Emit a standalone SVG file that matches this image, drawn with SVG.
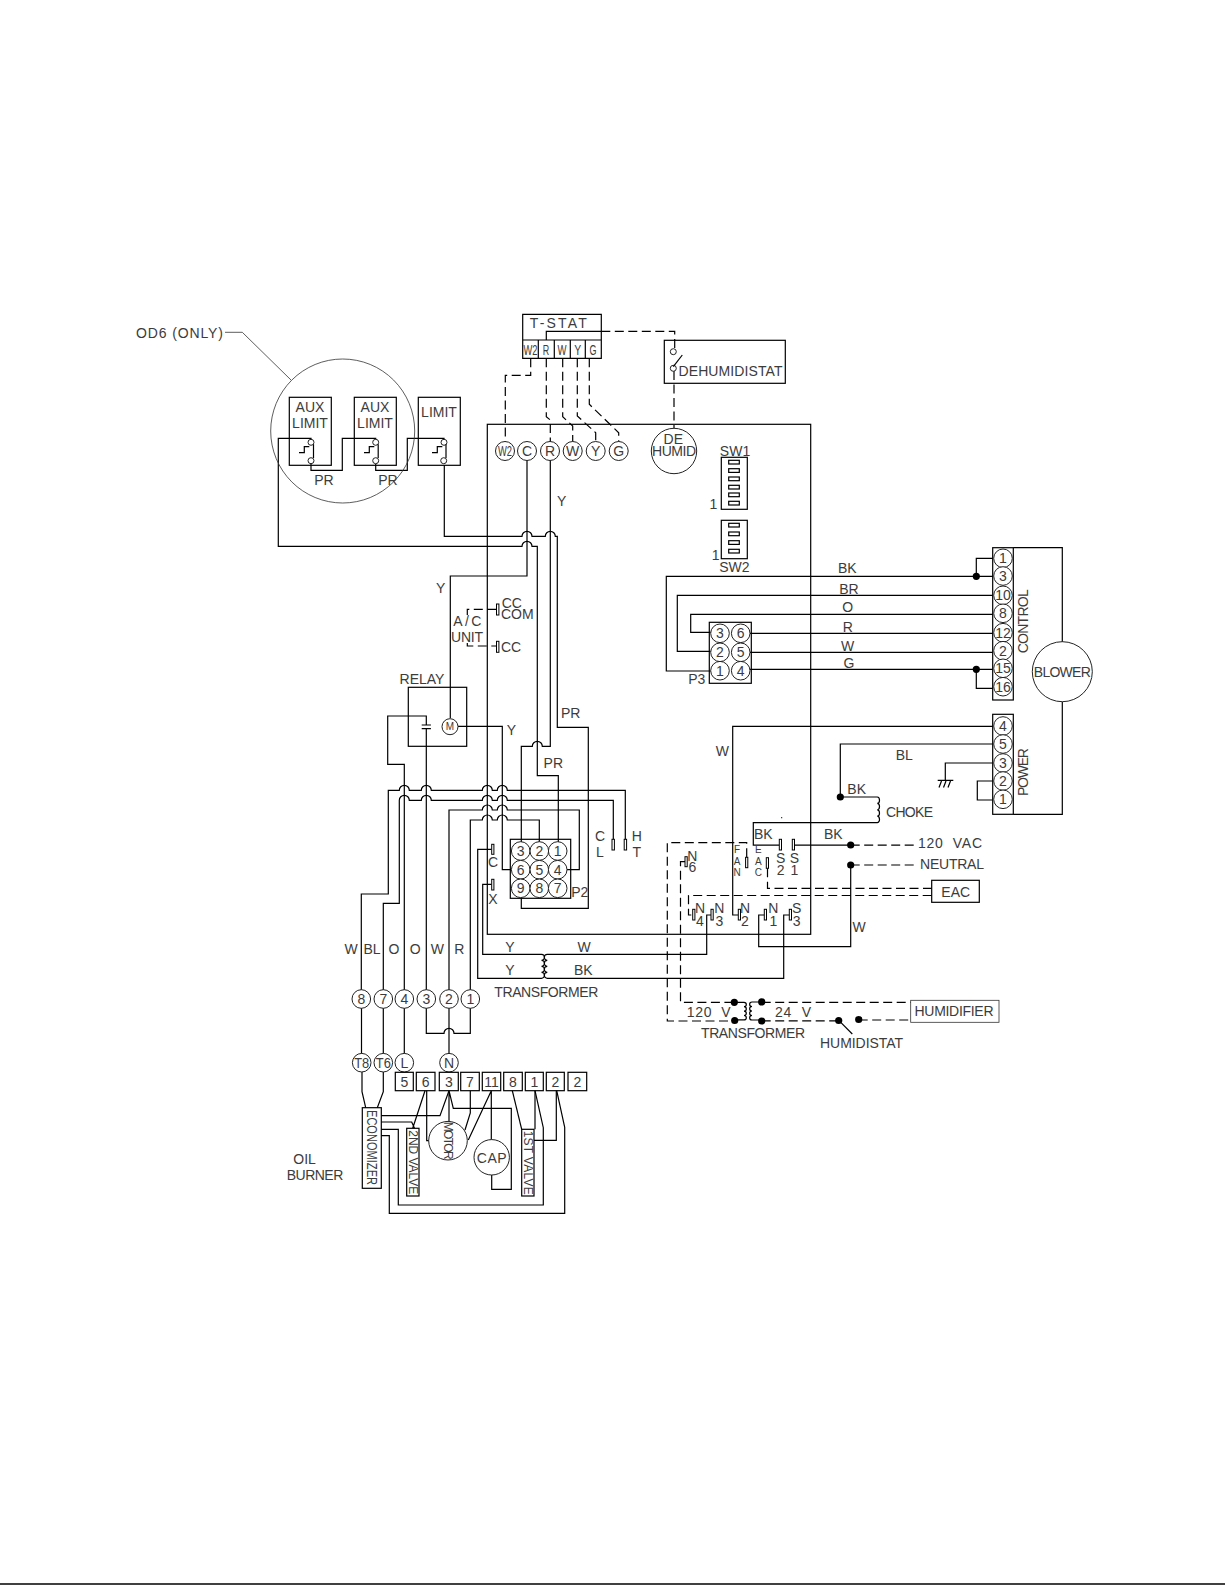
<svg xmlns="http://www.w3.org/2000/svg" width="1225" height="1585" viewBox="0 0 1225 1585">
<style>
text{font-family:"Liberation Sans",Arial,sans-serif;font-size:14px;fill:#3c3c3c;text-anchor:middle}
.s{font-size:12px}
.n{font-size:14px}
.xs{font-size:10px}
.l{text-anchor:start}
.b,.w,.d,.t{fill:none;stroke:#000;stroke-width:1.2}
.c{fill:#fff;stroke:#222;stroke-width:1}
.d{stroke-dasharray:9 4.5}
.t{fill:#fff;stroke-width:1}
.th{fill:none;stroke:#333;stroke-width:.8}
.dot{fill:#000}
</style>
<rect width="1225" height="1585" fill="#fff"/>
<path id="page-rule" d="M0 1584H1225" stroke="#000" stroke-width="1.4"/>
<rect id="board" class="b" x="487.3" y="424.3" width="323.4" height="510"/>

<g id="connectors">
<path class="w" d="M444.3 465V536.3H522a5 5 0 0 1 10 0H545.3a5 5 0 0 1 10 0H557.3V727.3H588.3V908.3H521.3V898.3"/>
<path class="w" d="M311 440V438.3H278.3V546.3H522a5 5 0 0 1 10 0H537.3V775.7H558.3V842"/>
<path class="w" d="M550.3 460V746.3H542.3a5 5 0 0 0-10 0H521.3V842"/>
<path class="w" d="M527 460V576H450.3V718"/>
<path class="w" d="M311 464V470.3H342.3V438.3H375.7V440M375.7 464V470.3H407.3V438.3H444V440"/>
<path class="w" d="M458 726.3H502.3V869.7H511"/>
<path class="w" d="M404.3 990V764.3H387.7V716H426.3V725M421.7 725H430.9M421.7 728.7H430.9M426.3 728.7V990"/>
<path class="w" d="M361.3 990V894H388.3V790.3H399.3a5 5 0 0 1 10 0H421.3a5 5 0 0 1 10 0H482.3a5 5 0 0 1 10 0H497.3a5 5 0 0 1 10 0H625.3V839.3"/>
<path class="w" d="M383.3 990V903.3H399.3V800.3a5 5 0 0 1 10 0H421.3a5 5 0 0 1 10 0H482.3a5 5 0 0 1 10 0H497.3a5 5 0 0 1 10 0H613.3V839.3"/>
<path class="w" d="M449 990V810H482.3a5 5 0 0 1 10 0H497.3a5 5 0 0 1 10 0H579.3V869.7H566"/>
<path class="w" d="M470.3 990V820H482.3a5 5 0 0 1 10 0H497.3a5 5 0 0 1 10 0H539.3V842"/>
<path class="w" d="M491.7 849.3H477.7V978.3H541.5a3 3 0 0 0 0-6a3 3 0 0 0 0-6a3 3 0 0 0 0-6a3 3 0 0 0 0-6H482.7V884.3H491.7"/>
<path class="w" d="M711 915H706.7V954.3H547.3a3 3 0 0 0 0 6a3 3 0 0 0 0 6a3 3 0 0 0 0 6a3 3 0 0 0 0 6H783.7V915H789.3"/>
<path class="w" d="M992.7 726.3H732.7V915H738.3"/>
<path class="w" d="M850.7 865V946.7H758.7V915H764.3"/>
<path class="w" d="M361.5 1008V1055M383.3 1008V1055M404.3 1008V1055M449 1008V1055"/>
<path class="w" d="M426.3 1008V1033.3H444a5 5 0 0 1 10 0H470.3V1008"/>
<path class="w" d="M546.3 340V331.3H601.3"/>
<path class="w" d="M992.7 558.3H976.3V576.3M992.7 576.3H666.3V671H710.7"/>
<path class="w" d="M992.7 595.3H677.3V651.3H710.7"/>
<path class="w" d="M992.7 614.3H690.7V632.3H710.7"/>
<path class="w" d="M750 633.3H992.7M750 652.3H992.7M750 669.3H992.7M976.3 669.3V688.3H992.7"/>
<path class="w" d="M992.7 744H840.3V797H877.3a2.2 3.2 0 0 1 0 6.4a2.2 3.2 0 0 1 0 6.4a2.2 3.2 0 0 1 0 6.4a2.2 3.2 0 0 1 0 6.4H753.3V845.2H779.3M795 845.2H850.7"/>
<path class="w" d="M992.7 763H945.3V780M937.7 780.3H953.3M939 787.5L941.5 781M943.5 787.5L946 781M948 787.5L950.5 781"/>
<path class="w" d="M992.7 781H977.3V800H992.7"/>
<path class="w" d="M734.3 1002.3H744a2.3 2.2 0 0 1 0 4.4a2.3 2.2 0 0 1 0 4.4a2.3 2.2 0 0 1 0 4.4a2.3 2.2 0 0 1 0 4.4H734.7"/>
<path class="w" d="M761.7 1002H752a2.3 2.2 0 0 0 0 4.5a2.3 2.2 0 0 0 0 4.5a2.3 2.2 0 0 0 0 4.5a2.3 2.2 0 0 0 0 4.5H761.7"/>
<path class="w" d="M362 1071.7V1091.7L365.7 1107.7M383.3 1071.7V1091.7L377.3 1107.7"/>
<path class="w" d="M381.3 1115.7H440L449 1090.7"/>
<path class="w" d="M381.3 1122H411.7L414.5 1128.3M425 1090.7L412.7 1128.3"/>
<path class="w" d="M426.7 1090.7V1140.7H430"/>
<path class="w" d="M381.3 1129.3H398.3V1205H543.3V1127.7L535 1090.7"/>
<path class="w" d="M381.3 1135.7H389.3V1213.3H564.7V1127.3L556.7 1090.7"/>
<path class="w" d="M449 1090.7V1122M449 1090.7L453.3 1108.3H511.3V1189.3H491.7V1175"/>
<path class="w" d="M470.3 1090.7V1113L465 1130"/>
<path class="w" d="M491.3 1090.7V1140M491.3 1090.7L468.3 1140"/>
<path class="w" d="M512.3 1090.7L521.7 1129.3"/>
<path class="w" d="M535 1090.7V1129.3"/>
<path class="w" d="M556.3 1090.7V1140.3H534"/>
<path class="d" d="M530.7 358.3V375.3H505.3V442"/>
<path class="d" d="M546.3 358.3V416.7L550.3 420V442"/>
<path class="d" d="M562.7 358.3V416.7L572.7 426V442"/>
<path class="d" d="M577.3 358.3V416L595.7 432.7V442"/>
<path class="d" d="M589.3 358.3V404.3L618.7 432.7V442"/>
<path class="d" d="M601.3 331.3H674.7V349"/>
<path class="d" d="M674 371V428"/>
<path class="d" d="M496.3 609.3H467.3V615"/>
<path class="d" d="M467.3 643V646H496.3"/>
<path class="d" d="M850.7 845.2H916M850.7 865H918"/>
<path class="d" d="M767.5 868.3V888.3H931.7"/>
<path class="d" d="M931.7 895.5H688.5V915H692.7"/>
<path class="d" d="M746.7 857.3V842.7H667.3V1021H734.7"/>
<path class="d" d="M685 861.7H680.5V1002.3H734.3"/>
<path class="d" d="M761.7 1002.3H910.7M761.7 1020.8H838.7M858.7 1020H910.7"/>
<path class="w" d="M840 1021.7L852.3 1034"/>
<g class="dot">
<circle cx="976.3" cy="576.3" r="3.6"/><circle cx="976.3" cy="669.3" r="3.6"/>
<circle cx="840.3" cy="797" r="3.6"/><circle cx="850.7" cy="845" r="3.6"/><circle cx="850.7" cy="865" r="3.6"/>
<circle cx="734.3" cy="1002.3" r="3.6"/><circle cx="734.7" cy="1020.5" r="3.6"/><circle cx="761.7" cy="1001.9" r="3.6"/><circle cx="761.7" cy="1021" r="3.6"/>
<circle cx="838.7" cy="1020.5" r="3.6"/><circle cx="858.7" cy="1019.5" r="3.6"/>
<circle cx="781.7" cy="817.7" r=".6"/>
</g>
</g>

<g id="od6-callout">
<text x="179.5" y="337.7" textLength="87">OD6 (ONLY)</text>
<path class="th" d="M225 332.3H242.3L291 380"/>
<circle class="th" cx="342.7" cy="431" r="72"/>
</g>

<g id="aux-limit-1">
<rect class="b" x="289.3" y="397.3" width="42" height="68"/>
<text x="310" y="411.7">AUX</text><text x="310" y="428">LIMIT</text>
<circle class="c" cx="311" cy="442.3" r="3"/><circle class="c" cx="311" cy="460.7" r="3"/>
<path class="b" d="M299 452.7H304.3V446.7H309.3M313.5 444.3V458"/>
<text x="324" y="485">PR</text>
</g>
<g id="aux-limit-2">
<rect class="b" x="354.3" y="397.3" width="42" height="68"/>
<text x="375" y="411.7">AUX</text><text x="375" y="428">LIMIT</text>
<circle class="c" cx="375.7" cy="442.3" r="3"/><circle class="c" cx="375.7" cy="460.7" r="3"/>
<path class="b" d="M364 452.7H369.3V446.7H374.3M378.2 444.3V458"/>
<text x="388" y="485">PR</text>
</g>
<g id="limit">
<rect class="b" x="418.3" y="397.3" width="42" height="68"/>
<text x="439" y="416.7">LIMIT</text>
<circle class="c" cx="444" cy="442.3" r="3"/><circle class="c" cx="443.7" cy="460.7" r="3"/>
<path class="b" d="M432 452.7H437.3V446.7H442.3M446 444.3V458"/>
</g>
<g id="t-stat">
<path class="b" d="M522.7 314.3H601.3V358.3H522.7ZM522.7 340H601.3M538.3 340V358.3M554.3 340V358.3M570.3 340V358.3M585.3 340V358.3"/>
<text x="558.3" y="328" textLength="57">T-STAT</text>
<text x="530.5" y="355" textLength="14" lengthAdjust="spacingAndGlyphs">W2</text>
<text x="546" y="355" textLength="6.5" lengthAdjust="spacingAndGlyphs">R</text><text x="562" y="355" textLength="9" lengthAdjust="spacingAndGlyphs">W</text><text x="577.7" y="355" textLength="7" lengthAdjust="spacingAndGlyphs">Y</text><text x="593" y="355" textLength="7" lengthAdjust="spacingAndGlyphs">G</text>
</g>
<g id="dehumidistat">
<rect class="b" x="664.3" y="340.3" width="121" height="43"/>
<circle class="c" cx="673.3" cy="351.7" r="3"/><circle class="c" cx="673.3" cy="368.3" r="3"/>
<path class="b" d="M673.3 366.7L682.3 355"/>
<text x="730.5" y="375.7" textLength="104">DEHUMIDISTAT</text>
</g>
<g id="board-terminals">
<g class="c"><circle cx="505" cy="451" r="9.5"/><circle cx="527" cy="451" r="9.5"/><circle cx="550" cy="451" r="9.5"/><circle cx="572.7" cy="451" r="9.5"/><circle cx="595.7" cy="451" r="9.5"/><circle cx="618.7" cy="451" r="9.5"/></g>
<text x="505" y="456" textLength="14" lengthAdjust="spacingAndGlyphs">W2</text>
<text class="n" x="527" y="456">C</text><text class="n" x="550" y="456">R</text><text class="n" x="572.7" y="456">W</text><text class="n" x="595.7" y="456">Y</text><text class="n" x="618.7" y="456">G</text>
</g>
<g id="dehumid-terminal">
<circle class="c" cx="674" cy="451" r="22.7"/>
<text x="673.3" y="444">DE</text><text x="674" y="456" textLength="44">HUMID</text>
</g>
<g id="sw1">
<rect class="b" x="721.3" y="457.3" width="26" height="52"/>
<g class="b"><rect x="728.7" y="460.3" width="10.6" height="3.7"/><rect x="728.7" y="468.7" width="10.6" height="3.7"/><rect x="728.7" y="477" width="10.6" height="3.7"/><rect x="728.7" y="485.3" width="10.6" height="3.7"/><rect x="728.7" y="493" width="10.6" height="3.7"/><rect x="728.7" y="501.3" width="10.6" height="3.7"/></g>
<text x="735" y="456">SW1</text><text x="713.3" y="509">1</text>
</g>
<g id="sw2">
<rect class="b" x="721.3" y="520.3" width="26" height="38.4"/>
<g class="b"><rect x="728.7" y="523.3" width="10.6" height="3.7"/><rect x="728.7" y="532" width="10.6" height="3.7"/><rect x="728.7" y="540.7" width="10.6" height="3.7"/><rect x="728.7" y="549.3" width="10.6" height="3.7"/></g>
<text x="734.3" y="571.7">SW2</text><text x="715.7" y="560">1</text>
</g>
<g id="p3">
<rect class="b" x="709.3" y="622.3" width="42" height="61"/>
<g class="c"><circle cx="720" cy="633.3" r="9.3"/><circle cx="740.7" cy="633.3" r="9.3"/><circle cx="720" cy="652.3" r="9.3"/><circle cx="740.7" cy="652.3" r="9.3"/><circle cx="720" cy="670.7" r="9.3"/><circle cx="740.7" cy="670.7" r="9.3"/></g>
<text class="n" x="720" y="638.3">3</text><text class="n" x="740.7" y="638.3">6</text><text class="n" x="720" y="657.3">2</text><text class="n" x="740.7" y="657.3">5</text><text class="n" x="720" y="675.7">1</text><text class="n" x="740.7" y="675.7">4</text>
<text x="696.7" y="684">P3</text>
</g>
<g id="control-strip">
<path class="b" d="M1013.3 547.7H1062.3V642M1062.3 701.7V814.3H1013.3"/>
<rect class="b" x="992.7" y="547.7" width="20.6" height="152.3"/>
<g class="c"><circle cx="1003" cy="558.3" r="9.3"/><circle cx="1003" cy="576" r="9.3"/><circle cx="1003" cy="595.3" r="9.3"/><circle cx="1003" cy="613.3" r="9.3"/><circle cx="1003" cy="632.7" r="9.3"/><circle cx="1003" cy="650.7" r="9.3"/><circle cx="1003" cy="668.3" r="9.3"/><circle cx="1003" cy="686.7" r="9.3"/></g>
<text class="n" x="1003" y="563.3">1</text><text class="n" x="1003" y="581">3</text><text class="n" x="1003" y="600.3">10</text><text class="n" x="1003" y="618.3">8</text><text class="n" x="1003" y="637.7">12</text><text class="n" x="1003" y="655.7">2</text><text class="n" x="1003" y="673.3">15</text><text class="n" x="1003" y="691.7">16</text>
<text transform="translate(1028.3 621.3) rotate(-90)" textLength="64">CONTROL</text>
</g>
<g id="power-strip">
<rect class="b" x="992.7" y="714.3" width="20.6" height="100"/>
<g class="c"><circle cx="1003" cy="726" r="9.3"/><circle cx="1003" cy="744" r="9.3"/><circle cx="1003" cy="763" r="9.3"/><circle cx="1003" cy="781" r="9.3"/><circle cx="1003" cy="799.3" r="9.3"/></g>
<text class="n" x="1003" y="731">4</text><text class="n" x="1003" y="749">5</text><text class="n" x="1003" y="768">3</text><text class="n" x="1003" y="786">2</text><text class="n" x="1003" y="804.3">1</text>
<text transform="translate(1028.3 772) rotate(-90)" textLength="48">POWER</text>
</g>
<g id="blower">
<circle class="c" cx="1062.3" cy="671.7" r="30"/>
<text x="1062.3" y="677" textLength="57">BLOWER</text>
</g>
<g id="ac-unit">
<text x="467.3" y="626" textLength="28">A/C</text><text x="467" y="641.7" textLength="32">UNIT</text>
<rect class="t" x="496.5" y="604" width="2.4" height="11"/><rect class="t" x="496.5" y="641.3" width="2.4" height="11"/>
<text class="l" x="501.7" y="608.3">CC</text><text class="l" x="501" y="619">COM</text><text class="l" x="501" y="651.7">CC</text>
</g>
<g id="relay">
<rect class="b" x="408.3" y="687.3" width="58.4" height="59"/>
<circle class="c" cx="450" cy="726.7" r="8"/>
<text class="xs" x="450" y="730.3">M</text>
<text x="422" y="684.3">RELAY</text>
</g>
<g id="p2">
<rect class="b" x="510.3" y="839.3" width="60.4" height="59"/>
<g class="c"><circle cx="520.7" cy="851" r="9.3"/><circle cx="539.3" cy="851" r="9.3"/><circle cx="557.7" cy="851" r="9.3"/><circle cx="520.7" cy="869.7" r="9.3"/><circle cx="539.3" cy="869.7" r="9.3"/><circle cx="557.7" cy="869.7" r="9.3"/><circle cx="520.7" cy="888.3" r="9.3"/><circle cx="539.3" cy="888.3" r="9.3"/><circle cx="557.7" cy="888.3" r="9.3"/></g>
<text class="n" x="520.7" y="856">3</text><text class="n" x="539.3" y="856">2</text><text class="n" x="557.7" y="856">1</text><text class="n" x="520.7" y="874.7">6</text><text class="n" x="539.3" y="874.7">5</text><text class="n" x="557.7" y="874.7">4</text><text class="n" x="520.7" y="893.3">9</text><text class="n" x="539.3" y="893.3">8</text><text class="n" x="557.7" y="893.3">7</text>
<text x="579.7" y="897.3">P2</text>
</g>
<g id="cl-ht-terminals">
<rect class="t" x="612" y="839.3" width="2.4" height="10.7"/><rect class="t" x="624.2" y="839.3" width="2.4" height="10.7"/>
<text x="600" y="840.7">C</text><text x="600" y="857.3">L</text><text x="636.7" y="840.7">H</text><text x="636.7" y="857.3">T</text>
<rect class="t" x="491.7" y="844.3" width="2.2" height="10"/><rect class="t" x="491.7" y="879.3" width="2.2" height="10.7"/>
<text x="493" y="866.7">C</text><text x="493" y="904">X</text>
</g>
<g id="accessory-terminals">
<rect class="t" x="685" y="856.7" width="2.2" height="10"/><rect class="t" x="745.6" y="857.3" width="2.2" height="10.4"/><rect class="t" x="766.3" y="857.7" width="2.2" height="10.6"/>
<rect class="t" x="779.3" y="839.3" width="2.2" height="10.7"/><rect class="t" x="792.3" y="839.3" width="2.2" height="10.7"/>
<rect class="t" x="692.7" y="909.3" width="2.2" height="10.7"/><rect class="t" x="711" y="909.3" width="2.2" height="10.7"/><rect class="t" x="738.3" y="909.3" width="2.2" height="10.7"/><rect class="t" x="764.3" y="909.3" width="2.2" height="10.7"/><rect class="t" x="789.3" y="909.3" width="2.2" height="10.7"/>
<text x="692.3" y="860.7">N</text><text x="692.3" y="871.7">6</text>
<text class="xs" x="737" y="853.3">F</text><text class="xs" x="737" y="864.5">A</text><text class="xs" x="737" y="876">N</text>
<text class="xs" x="758.3" y="853.3">E</text><text class="xs" x="758.3" y="864.5">A</text><text class="xs" x="758.3" y="876">C</text>
<text x="780.7" y="862.7">S</text><text x="780.7" y="875">2</text><text x="794.3" y="862.7">S</text><text x="794.3" y="875">1</text>
<text x="700" y="913.3">N</text><text x="700" y="925.5">4</text><text x="719.3" y="913.3">N</text><text x="719.3" y="925.5">3</text>
<text x="745" y="913.3">N</text><text x="745" y="925.5">2</text><text x="773.3" y="913.3">N</text><text x="773.3" y="925.5">1</text>
<text x="796.7" y="913.3">S</text><text x="796.7" y="925.5">3</text>
</g>
<g id="eac">
<rect class="b" x="931.7" y="880.3" width="47.6" height="22"/>
<text x="955.7" y="897">EAC</text>
</g>
<g id="humidifier">
<rect class="th" x="910.7" y="1000.3" width="88.3" height="22"/>
<text x="954" y="1015.7" textLength="79">HUMIDIFIER</text>
</g>
<g id="harness-8">
<g class="c"><circle cx="361.3" cy="999" r="9.3"/><circle cx="383.3" cy="999" r="9.3"/><circle cx="404.3" cy="999" r="9.3"/><circle cx="426.3" cy="999" r="9.3"/><circle cx="449" cy="999" r="9.3"/><circle cx="470.3" cy="999" r="9.3"/></g>
<text class="n" x="361.3" y="1004">8</text><text class="n" x="383.3" y="1004">7</text><text class="n" x="404.3" y="1004">4</text><text class="n" x="426.3" y="1004">3</text><text class="n" x="449" y="1004">2</text><text class="n" x="470.3" y="1004">1</text>
<g class="c"><circle cx="361.7" cy="1062.7" r="9.3"/><circle cx="383.3" cy="1062.7" r="9.3"/><circle cx="404.3" cy="1062.7" r="9.3"/><circle cx="449" cy="1062.7" r="9.3"/></g>
<text x="361.7" y="1067.7" textLength="15" lengthAdjust="spacingAndGlyphs">T8</text><text x="383.3" y="1067.7" textLength="15" lengthAdjust="spacingAndGlyphs">T6</text><text class="n" x="404.3" y="1067.7">L</text><text class="n" x="449" y="1067.7">N</text>
</g>
<g id="oil-burner-terminals">
<g class="b"><rect x="395.3" y="1072.3" width="18" height="18.4"/><rect x="416.3" y="1072.3" width="18.7" height="18.4"/><rect x="439.3" y="1072.3" width="19" height="18.4"/><rect x="460.7" y="1072.3" width="18.6" height="18.4"/><rect x="482.3" y="1072.3" width="18.4" height="18.4"/><rect x="503.7" y="1072.3" width="18.6" height="18.4"/><rect x="525.3" y="1072.3" width="18" height="18.4"/><rect x="546.3" y="1072.3" width="18" height="18.4"/><rect x="568" y="1072.3" width="18.7" height="18.4"/></g>
<text class="n" x="404.3" y="1086.5">5</text><text class="n" x="425.7" y="1086.5">6</text><text class="n" x="448.8" y="1086.5">3</text><text class="n" x="470" y="1086.5">7</text><text class="n" x="491.5" y="1086.5">11</text><text class="n" x="513" y="1086.5">8</text><text class="n" x="534.3" y="1086.5">1</text><text class="n" x="555.3" y="1086.5">2</text><text class="n" x="577.3" y="1086.5">2</text>
</g>
<g id="economizer">
<rect class="b" x="362.3" y="1107.7" width="19" height="80.6" fill="#fff"/>
<text transform="translate(366.5 1147.5) rotate(90)" textLength="75" lengthAdjust="spacingAndGlyphs">ECONOMIZER</text>
</g>
<g id="second-valve">
<rect class="b" x="406.7" y="1128.3" width="12.3" height="67.7"/>
<text class="s" transform="translate(408.8 1162.3) rotate(90)" textLength="64">2ND VALVE</text>
</g>
<g id="motor">
<circle class="c" cx="448" cy="1140.7" r="19.3"/>
<text class="s" transform="translate(444 1140.7) rotate(90)" textLength="38">MOTOR</text>
</g>
<g id="cap">
<circle class="c" cx="491.7" cy="1157.3" r="17.7"/>
<text x="491.7" y="1162.5" textLength="30">CAP</text>
</g>
<g id="first-valve">
<rect class="b" x="521.7" y="1129.3" width="12.3" height="66.7"/>
<text class="s" transform="translate(523.8 1162.7) rotate(90)" textLength="64">1ST VALVE</text>
</g>
<g id="labels">
<text x="561.7" y="506">Y</text><text x="440.7" y="592.7">Y</text><text x="511.3" y="735">Y</text>
<text x="570.7" y="718.3">PR</text><text x="553.3" y="768.3">PR</text>
<text x="847.3" y="573.3">BK</text><text x="849" y="594.3">BR</text><text x="847.7" y="611.7">O</text><text x="847.7" y="631.7">R</text><text x="847.7" y="651">W</text><text x="849" y="667.7">G</text>
<text x="722.3" y="756">W</text><text x="904.3" y="760">BL</text><text x="856.7" y="794">BK</text><text class="l" x="886" y="816.7" textLength="47">CHOKE</text>
<text x="763.3" y="838.7">BK</text><text x="833.3" y="838.7">BK</text><text x="859" y="931.7">W</text>
<text class="l" x="918" y="847.7" textLength="64" xml:space="preserve">120  VAC</text><text class="l" x="920" y="869.3" textLength="64">NEUTRAL</text>
<text x="351" y="954.3">W</text><text x="372" y="954.3">BL</text><text x="394" y="954.3">O</text><text x="415.3" y="954.3">O</text><text x="437.3" y="954.3">W</text><text x="459.3" y="954.3">R</text>
<text x="510" y="952.3">Y</text><text x="584" y="952.3">W</text><text x="510" y="975">Y</text><text x="583.3" y="975">BK</text>
<text class="l" x="494.3" y="996.7" textLength="104">TRANSFORMER</text>
<text class="l" x="686.7" y="1017.3" textLength="44" xml:space="preserve">120  V</text><text class="l" x="775" y="1017.3" textLength="36" xml:space="preserve">24  V</text>
<text class="l" x="701" y="1037.7" textLength="104">TRANSFORMER</text><text class="l" x="820" y="1048.3" textLength="83">HUMIDISTAT</text>
<text class="l" x="293.3" y="1164">OIL</text><text class="l" x="286.7" y="1180" textLength="56.6">BURNER</text>
</g>
</svg>
